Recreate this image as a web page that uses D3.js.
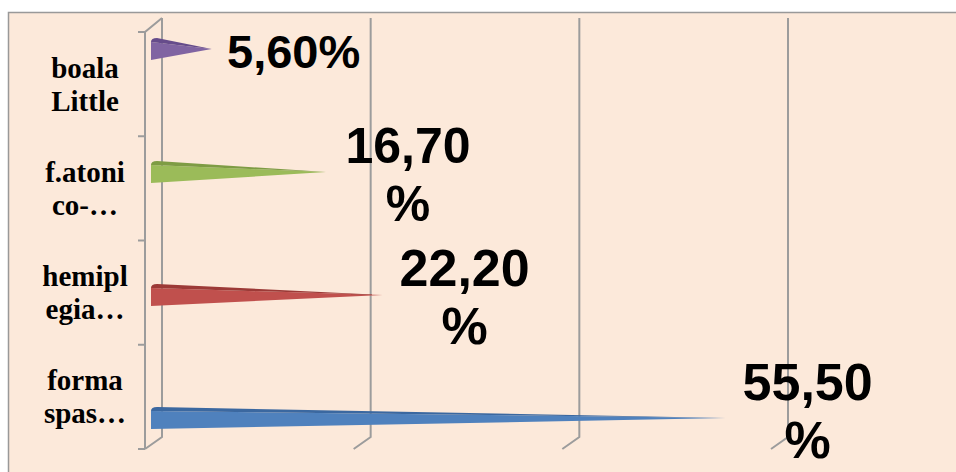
<!DOCTYPE html>
<html lang="ro">
<head>
<meta charset="UTF-8">
<title>Cone chart</title>
<script src="https://d3js.org/d3.v7.min.js"></script>
<style>
  body { margin: 0; background: #fff; }
  .cat { font-family: "Liberation Serif", "Times New Roman", serif; font-weight: bold; font-size: 29px; fill: #000; }
  .val { font-family: "Liberation Sans", Arial, sans-serif; font-weight: bold; fill: #000; }
</style>
</head>
<body>
<svg width="956" height="472"></svg>
<script>
// data, bottom to top
const categories = ["forma spas…", "hemipl egia…", "f.atoni co-…", "boala Little"];
const values = [55.5, 22.2, 16.7, 5.6];
const xTicks = [0, 20, 40, 60];

// styles
const colors = ["#4F81BD", "#C0504D", "#9BBB59", "#8064A2"];
const topColors = ["#3B68A0", "#9C3A37", "#7E9C44", "#664C8B"];
const labelSizes = [52, 52, 50, 47];

const depth = { dx: 17, dy: -12 };   // front -> back wall offset
const wall = { top: 18, bottom: 437 };
const front = { top: 32, bottom: 449 };

const svg = d3.select("svg");

// chart area
svg.append("rect")
    .attr("x", 8.5).attr("y", 12.5)
    .attr("width", 1000).attr("height", 500)
    .attr("fill", "#FCE9DA")
    .attr("stroke", "#999").attr("stroke-width", 1.5);

// back wall scale and the (slightly shrunk) scale of the cones mid-depth
const x = d3.scaleLinear()
    .domain([0, 60])
    .range([162, 788]);

const xCone = d3.scaleLinear()
    .domain([0, 60])
    .range([154, 772]);

const yBand = d3.scaleBand()
    .domain(categories)
    .range([front.bottom, front.top]);

const yCone = d3.scalePoint()
    .domain(categories)
    .range([418, 49]);

// back wall gridlines with floor diagonals
const grid = svg.append("g")
    .attr("stroke", "#9c9c9c")
    .attr("stroke-width", 2)
    .attr("fill", "none");

grid.selectAll(".gl")
    .data(xTicks)
    .enter().append("path")
    .attr("class", "gl")
    .attr("d", d => `M${x(d)},${wall.top} V${wall.bottom} l${-depth.dx},${-depth.dy}`);

// front value axis
const x0 = x(0) - depth.dx;
grid.append("path")
    .attr("d", `M${x0},${front.bottom} V${front.top} L${x(0)},${wall.top}`);

const boundaries = categories.map(c => yBand(c)).concat([front.bottom]);
grid.selectAll(".tk")
    .data(boundaries)
    .enter().append("line")
    .attr("class", "tk")
    .attr("x1", x0 - 7).attr("x2", x0)
    .attr("y1", d => d).attr("y2", d => d);

// category labels
const cat = svg.append("g")
    .selectAll("text")
    .data(categories)
    .enter().append("text")
    .attr("class", "cat")
    .attr("text-anchor", "middle")
    .attr("x", 85)
    .attr("y", d => yBand(d) + yBand.bandwidth() / 2);

cat.each(function(d) {
    const parts = d.split(" ");
    const t = d3.select(this);
    parts.forEach((p, i) => {
        t.append("tspan")
            .attr("x", 85)
            .attr("dy", i === 0 ? (-(parts.length - 1) * 16.5 + 10) : 33)
            .text(p);
    });
});

// cones
const half = 11;
const rows = categories.map((c, i) => ({ c, v: values[i], col: colors[i], top: topColors[i], size: labelSizes[i] }));

const cones = svg.append("g");

cones.selectAll(".face")
    .data(rows)
    .enter().append("path")
    .attr("class", "face")
    .attr("fill", d => d.col)
    .attr("d", d => {
        const b = xCone(0) - 3, t = xCone(d.v), yc = yCone(d.c);
        return `M${b},${yc - half + 4} L${t},${yc} L${b},${yc + half} Z`;
    });

cones.selectAll(".topf")
    .data(rows)
    .enter().append("path")
    .attr("class", "topf")
    .attr("fill", d => d.top)
    .attr("d", d => {
        const b = xCone(0) - 3, t = xCone(d.v), yc = yCone(d.c);
        return `M${b},${yc - half + 4} Q${b},${yc - half} ${b + 6},${yc - half} L${t},${yc} Z`;
    });

// value labels
const fmt = v => d3.format(".2f")(v).replace(".", ",") + "%";
const labels = svg.append("g")
    .selectAll("text")
    .data(rows)
    .enter().append("text")
    .attr("class", "val")
    .attr("text-anchor", "middle")
    .style("font-size", d => d.size + "px");

labels.each(function(d) {
    const t = d3.select(this);
    const cx = xCone(d.v) + 82;
    const cy = yCone(d.c);
    t.text(fmt(d.v));
    if (this.getComputedTextLength() > 140) {
        const s = fmt(d.v);
        // keep the wrapped label inside the picture
        const shift = Math.min(0, 460 - (cy + 51));
        t.text(null);
        t.append("tspan").attr("x", cx).attr("y", cy - 9 + shift).text(s.slice(0, -1));
        t.append("tspan").attr("x", cx).attr("y", cy + 49 + shift).text("%");
    } else {
        t.attr("x", cx).attr("y", cy + 19);
    }
});
</script>
</body>
</html>
